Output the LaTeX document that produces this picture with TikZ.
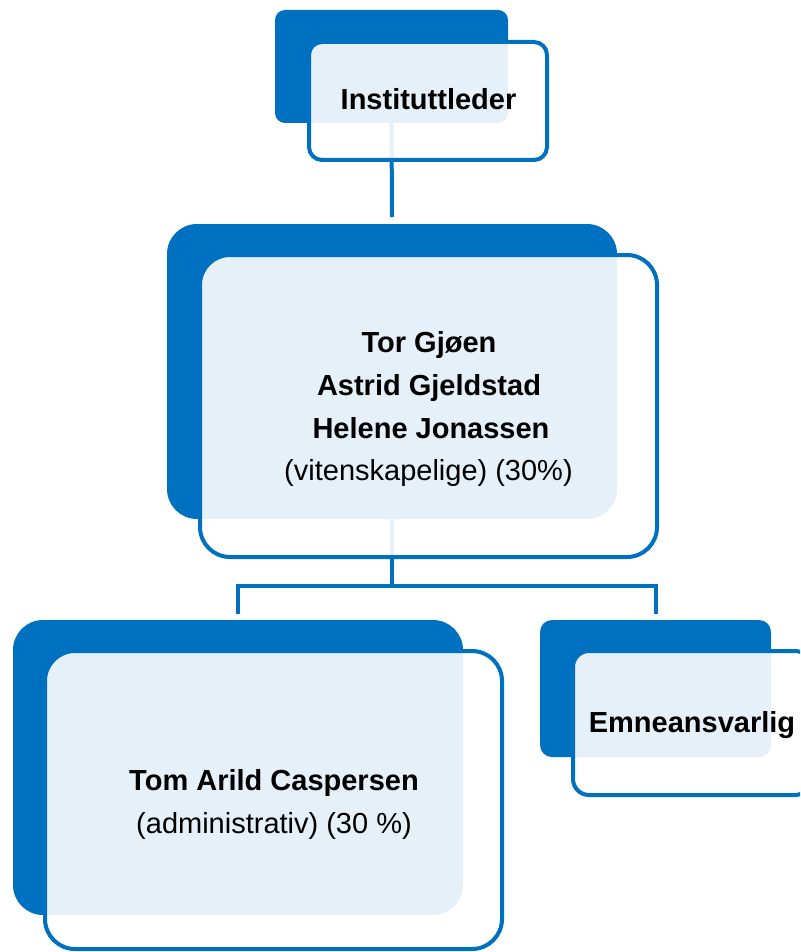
\documentclass[tikz,border=0pt]{standalone}
\usepackage{fontspec}
\setmainfont{Liberation Sans}
\definecolor{accent}{HTML}{0070C0}
\tikzset{
  darkbox/.style={rectangle, fill=accent, draw=none, inner sep=0pt, outer sep=0pt},
  outbox/.style={rectangle, draw=accent, line width=4pt, fill=white, fill opacity=0.9, draw opacity=1, inner sep=0pt, outer sep=0pt},
  conn/.style={draw=accent, line width=4pt},
  boldtxt/.style={anchor=base, inner sep=0pt, font=\fontsize{29pt}{43pt}\selectfont\bfseries},
  normtxt/.style={anchor=base, inner sep=0pt, font=\fontsize{29pt}{43pt}\selectfont},
}
\begin{document}
\begin{tikzpicture}[x=1pt,y=-1pt]
\useasboundingbox (0,0) rectangle (800,952);
\clip (0,0) rectangle (800,952);
% dark back boxes
\node[darkbox, rounded corners=10pt, minimum width=233pt, minimum height=113pt] (d1) at (391.5,66.5) {};
\node[darkbox, rounded corners=30pt, minimum width=450pt, minimum height=295pt] (d2) at (392,371.5) {};
\node[darkbox, rounded corners=30pt, minimum width=450pt, minimum height=295pt] (d3) at (238,767.5) {};
\node[darkbox, rounded corners=12pt, minimum width=231pt, minimum height=137pt] (d4) at (655.5,688.5) {};
% connectors
\draw[conn] (d1.south) -- ([yshift=7pt]d2.north);
\draw[conn] (d2.south) -- ++(0,67) coordinate (j);
\draw[conn] ([yshift=6pt]d3.north) |- (j) -| ([yshift=6pt]d4.north);
% outlined front boxes
\node[outbox, rounded corners=13pt, minimum width=238pt, minimum height=118pt] (o1) at (428,101) {};
\node[outbox, rounded corners=30pt, minimum width=457pt, minimum height=302pt] (o2) at (428.5,406) {};
\node[outbox, rounded corners=30pt, minimum width=457pt, minimum height=298pt] (o3) at (273.5,800) {};
\node[outbox, rounded corners=16pt, minimum width=238pt, minimum height=144pt] (o4) at (692,723) {};
% texts
\node[boldtxt] (t1) at (428.5,110) {Instituttleder};
\node[boldtxt] (t2a) at (429,352) {Tor Gjøen};
\node[boldtxt] (t2b) at (429,395) {Astrid Gjeldstad};
\node[boldtxt] (t2c) at (431,438) {Helene Jonassen};
\node[normtxt] (t2d) at (428.5,480) {(vitenskapelige) (30\%)};
\node[boldtxt] (t3a) at (274,790) {Tom Arild Caspersen};
\node[normtxt] (t3b) at (274,833) {(administrativ) (30 \%)};
\node[boldtxt] (t4) at (692,732) {Emneansvarlig};
\end{tikzpicture}
\end{document}
